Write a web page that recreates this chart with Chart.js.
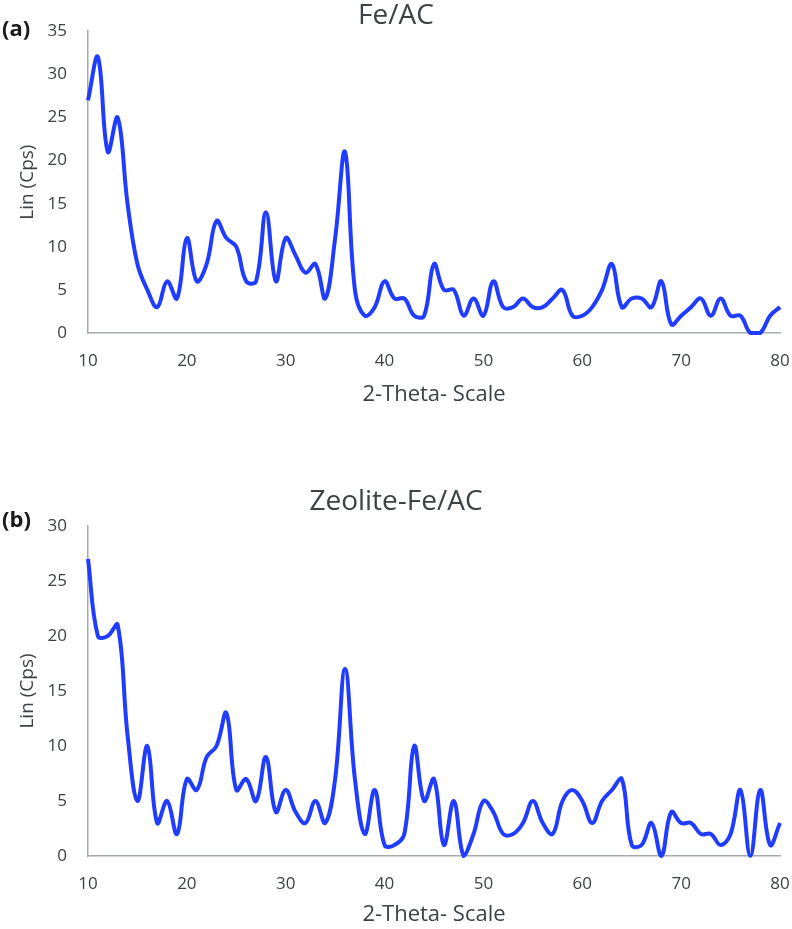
<!DOCTYPE html>
<html>
<head>
<meta charset="utf-8">
<script src="https://cdn.jsdelivr.net/npm/chart.js@4.4.1/dist/chart.umd.min.js"></script>
<style>
  html, body { margin: 0; padding: 0; background: #ffffff; }
  body { width: 792px; height: 929px; position: relative; overflow: hidden; }
  canvas { position: absolute; left: 0; }
  #c1 { top: 0px; }
  #c2 { top: 440px; }
</style>
</head>
<body>
<canvas id="c1" width="792" height="420"></canvas>
<canvas id="c2" width="792" height="489"></canvas>
<script>
// 2-Theta positions (degrees)
const twoTheta = [10,11,12,13,14,15,16,17,18,19,20,21,22,23,24,25,26,27,28,29,30,
  31,32,33,34,35,36,37,38,39,40,41,42,43,44,45,46,47,48,49,50,
  51,52,53,54,55,56,57,58,59,60,61,62,63,64,65,66,67,68,69,70,
  71,72,73,74,75,76,77,78,79,80];

// (a) Fe/AC intensities, Lin (Cps)
const feAC = [27,32,21,25,15,8,5,3,6,4,11,6,8,13,11,10,6,6,14,6,11,
  9,7,8,4,11,21,5,2,3,6,4,4,2,2,8,5,5,2,4,2,
  6,3,3,4,3,3,4,5,2,2,3,5,8,3,4,4,3,6,1,2,
  3,4,2,4,2,2,0,0,2,3];

// (b) Zeolite-Fe/AC intensities, Lin (Cps)
const zeoliteFeAC = [27,20,20,21,11,5,10,3,5,2,7,6,9,10,13,6,7,5,9,4,6,
  4,3,5,3,7,17,7,2,6,1,1,2,10,5,7,1,5,0,2,5,
  4,2,2,3,5,3,2,5,6,5,3,5,6,7,1,1,3,0,4,3,
  3,2,2,1,2,6,0,6,1,3];

const xTicks = [10,20,30,40,50,60,70,80];
const titles = ['Fe/AC', 'Zeolite-Fe/AC'];
const panelLabels = ['(a)', '(b)'];
const yMax = [35, 30];

const TEXT = '#3d4246';
const AXIS = '#a3abae';
const LINE = '#1f3cff';
const FONT = "'Open Sans', 'DejaVu Sans', sans-serif";

function makeChart(id, values, idx, opts) {
  const pts = twoTheta.map((x, i) => ({x: x, y: values[i]}));
  const panelPlugin = {
    id: 'panelLabel' + idx,
    afterDraw(chart) {
      const ctx = chart.ctx;
      ctx.save();
      ctx.font = "bold 22px " + FONT;
      ctx.fillStyle = '#1a1a1a';
      ctx.textAlign = 'left';
      ctx.textBaseline = 'middle';
      ctx.fillText(panelLabels[idx], 2, opts.labelY);
      ctx.restore();
    }
  };
  return new Chart(document.getElementById(id), {
    type: 'line',
    data: {
      datasets: [{
        data: pts,
        borderColor: LINE,
        borderWidth: 4,
        pointRadius: 0,
        tension: 0.4,
        fill: false,
        clip: false
      }]
    },
    plugins: [panelPlugin],
    options: {
      responsive: false,
      animation: false,
      devicePixelRatio: 1,
      layout: { padding: { left: 0, right: 0, top: 0, bottom: 0 } },
      plugins: {
        legend: { display: false },
        tooltip: { enabled: false },
        title: {
          display: true,
          text: titles[idx],
          color: TEXT,
          font: { family: FONT, size: 28, weight: 'normal', lineHeight: 1.1 },
          padding: opts.titlePad
        }
      },
      scales: {
        x: {
          type: 'linear',
          min: 10,
          max: 80,
          afterBuildTicks(scale) { scale.ticks = xTicks.map(v => ({value: v})); },
          afterFit(scale) {
            scale.height = opts.xHeight;
            scale.paddingLeft = 0;
            scale.paddingRight = 12;
          },
          grid: { display: false, drawTicks: false },
          border: { display: true, color: AXIS, width: 1.5 },
          ticks: { color: TEXT, font: { family: FONT, size: 17 }, padding: 17.5, maxRotation: 0 },
          title: {
            display: true,
            text: '2-Theta- Scale',
            color: TEXT,
            font: { family: FONT, size: 22 },
            padding: { top: 0, bottom: opts.xTitlePad }
          }
        },
        y: {
          min: 0,
          max: yMax[idx],
          ticks: { stepSize: 5, color: TEXT, font: { family: FONT, size: 17 }, padding: 21 },
          afterFit(scale) { scale.width = 88; },
          grid: { display: false, drawTicks: false },
          border: { display: true, color: AXIS, width: 1.5 },
          title: {
            display: true,
            text: 'Lin (Cps)',
            color: TEXT,
            font: { family: FONT, size: 19 },
            padding: { top: 16.6, bottom: 0 }
          }
        }
      }
    }
  });
}

makeChart('c1', feAC, 0, {
  labelY: 30,
  titlePad: { top: 0, bottom: 0 },
  xHeight: 87,
  xTitlePad: 11.8
});
makeChart('c2', zeoliteFeAC, 1, {
  labelY: 81,
  titlePad: { top: 46.6, bottom: 8.6 },
  xHeight: 73,
  xTitlePad: 0.8
});
</script>
</body>
</html>
